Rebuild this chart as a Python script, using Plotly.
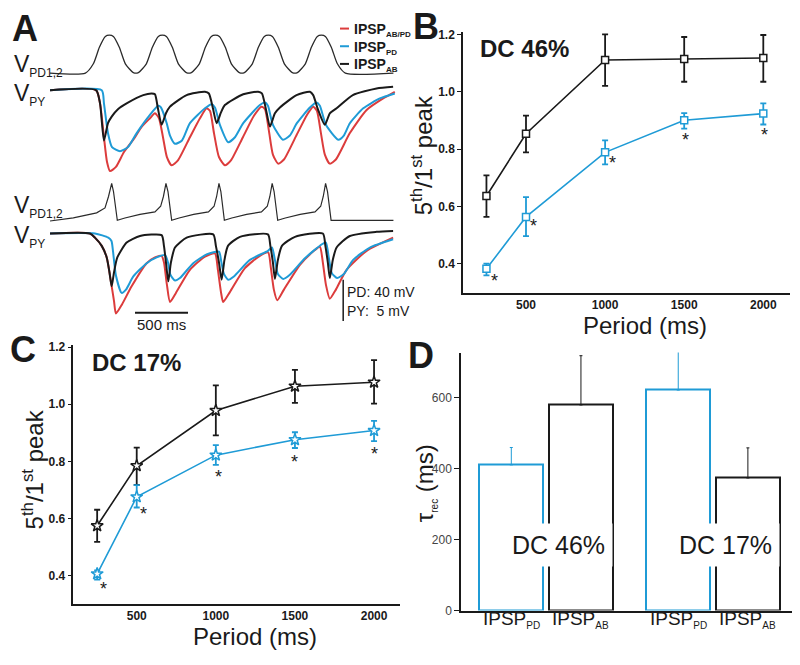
import plotly.graph_objects as go

# ---------------- DATA ----------------
# Panel A : time (ms) and membrane potential relative to rest (mV)
t_pd_top = [0, 334, 409, 466, 522, 560, 598, 654, 711, 786, 834, 909, 966, 1022, 1060, 1098, 1154, 1211, 1286,
            1334, 1409, 1466, 1522, 1560, 1598, 1654, 1711, 1786, 1834, 1909, 1966, 2022, 2060, 2098, 2154, 2211,
            2286, 2334, 2409, 2466, 2522, 2560, 2598, 2654, 2711, 2786, 3240]
v_pd_top = [0, 0, 9, 25, 35.5, 36.7, 35.5, 25, 9, 0.5, 0.5, 9, 25, 35.5, 36.7, 35.5, 25, 9, 0.5,
            0.5, 9, 25, 35.5, 36.7, 35.5, 25, 9, 0.5, 0.5, 9, 25, 35.5, 36.7, 35.5, 25, 9,
            0.5, 0.5, 9, 25, 35.5, 36.7, 35.5, 25, 9, 0, 0]

t_pd_bot = [0, 220, 440, 519, 552, 582, 599, 618, 635, 707, 849, 990, 1044, 1070, 1094, 1113, 1132, 1148,
            1218, 1355, 1495, 1548, 1572, 1594, 1612, 1630, 1645, 1715, 1855, 1995, 2050, 2074, 2096, 2114,
            2132, 2148, 2220, 2360, 2500, 2554, 2578, 2600, 2618, 2636, 2652, 3240]
v_pd_bot = [0, 3.1, 7.9, 12.7, 23.8, 36.5, 28.6, 14.3, 0.7, 2.9, 6.4, 8.9, 14.3, 23.8, 36.5, 28.6, 14.3, 0.7,
            2.9, 6.4, 8.9, 14.3, 23.8, 36.5, 28.6, 14.3, 0.7, 2.9, 6.4, 8.9, 14.3, 23.8, 36.5, 28.6,
            14.3, 0.7, 2.9, 6.4, 8.9, 14.3, 23.8, 36.5, 28.6, 14.3, 0.7, 0.7]

# PY, DC 46% (top)
t_ab_top = [0, 434, 472, 509, 547, 582, 641, 723, 880, 959, 990, 1018, 1053, 1094, 1132, 1289, 1462, 1499, 1537,
            1572, 1613, 1650, 1823, 1964, 1999, 2037, 2075, 2122, 2169, 2326, 2452, 2483, 2527, 2593, 2640, 2704,
            2857, 3081, 3237]
v_ab_top = [0, 0, -1.6, -6.1, -4.0, -3.2, -2.3, -1.6, -0.6, -0.4, -0.5, -2.2, -4.2, -2.8, -2.0, -0.6, -0.2, -0.4,
            -2.2, -4.0, -2.7, -1.8, -0.5, -0.2, -0.4, -2.3, -4.4, -2.8, -2.1, -0.6, -0.2, -0.6, -2.3, -4.2, -2.8,
            -2.2, -0.6, 0.2, 0.4]
t_pdsyn_top = [0, 488, 509, 547, 585, 660, 736, 818, 943, 1021, 1047, 1101, 1132, 1179, 1245, 1320, 1462, 1525,
               1556, 1603, 1681, 1745, 1823, 1980, 2028, 2056, 2103, 2197, 2263, 2329, 2452, 2515, 2546, 2603,
               2719, 2772, 2829, 2955, 3112, 3253]
v_pdsyn_top = [0, 0, -1.6, -5.2, -6.9, -7.4, -6.9, -5.2, -3.0, -1.9, -2.1, -4.0, -5.5, -6.5, -6.1, -4.0, -2.2,
               -1.7, -2.1, -4.2, -6.3, -5.7, -4.0, -1.8, -1.5, -1.9, -4.2, -6.0, -5.5, -4.0, -2.1, -1.5, -1.9,
               -4.2, -6.0, -5.5, -4.0, -2.2, -1.0, -0.4]
t_both_top = [0, 434, 472, 509, 538, 566, 622, 698, 786, 868, 943, 990, 1028, 1066, 1103, 1148, 1207, 1320, 1415,
              1478, 1509, 1547, 1594, 1650, 1707, 1820, 1924, 1996, 2028, 2065, 2103, 2153, 2207, 2320, 2424,
              2483, 2518, 2556, 2593, 2640, 2697, 2829, 2987, 3143, 3253]
v_both_top = [0, 0, -1.6, -5.7, -8.7, -9.8, -9.3, -7.5, -6.0, -4.4, -3.4, -2.8, -3.4, -5.7, -8.1, -9.1, -8.5,
              -5.7, -3.4, -2.2, -2.5, -5.2, -8.1, -9.1, -8.5, -5.7, -3.1, -2.0, -2.3, -4.9, -7.8, -8.9, -8.4,
              -5.6, -3.0, -2.0, -2.5, -5.2, -7.8, -8.9, -8.4, -5.2, -2.4, -1.0, -0.2]

# PY, DC 17% (bottom)
t_ab_bot = [0, 377, 424, 488, 535, 561, 582, 604, 635, 723, 849, 1053, 1075, 1094, 1116, 1141, 1179, 1289, 1540,
            1565, 1594, 1619, 1646, 1679, 1792, 2056, 2079, 2103, 2122, 2150, 2188, 2311, 2574, 2598, 2621, 2640,
            2668, 2704, 2829, 3081, 3237]
v_ab_bot = [0, 0, -0.5, -1.5, -2.9, -4.7, -6.4, -4.7, -2.9, -1.1, -0.3, -0.2, -1.5, -3.5, -5.8, -3.5, -1.7, -0.5,
            -0.1, -1.5, -3.5, -5.6, -3.2, -1.5, -0.4, -0.1, -1.5, -3.5, -5.5, -3.2, -1.5, -0.4, 0, -1.5, -3.5,
            -5.4, -3.2, -1.7, -0.3, 0.2, 0.3]
t_pdsyn_bot = [0, 424, 550, 580, 594, 622, 676, 717, 786, 912, 1006, 1085, 1113, 1136, 1179, 1226, 1351, 1483,
               1594, 1617, 1641, 1681, 1735, 1886, 2056, 2094, 2122, 2150, 2200, 2263, 2405, 2565, 2603, 2631,
               2659, 2709, 2772, 2860, 3018, 3237]
v_pdsyn_bot = [0, 0, -0.5, -0.9, -2.1, -5.1, -7.2, -6.8, -5.2, -3.6, -2.9, -2.6, -3.5, -5.0, -5.7, -5.4, -3.6,
               -2.5, -2.2, -3.5, -4.9, -5.6, -5.2, -3.2, -2.1, -1.7, -3.2, -4.9, -5.5, -5.0, -3.0, -1.3, -1.1,
               -3.0, -4.8, -5.4, -4.9, -3.2, -1.7, -0.7]
t_both_bot = [0, 377, 424, 488, 535, 582, 604, 622, 679, 770, 912, 990, 1053, 1075, 1103, 1132, 1188, 1320, 1462,
              1556, 1584, 1613, 1634, 1697, 1839, 1980, 2058, 2084, 2112, 2144, 2207, 2358, 2490, 2546, 2574,
              2603, 2640, 2697, 2798, 2987, 3237]
v_both_bot = [0, 0, -0.5, -1.5, -2.9, -6.4, -8.2, -9.7, -8.6, -6.4, -3.6, -2.9, -2.7, -3.5, -6.2, -8.3, -7.2,
              -4.4, -2.8, -2.4, -4.4, -7.1, -8.3, -7.1, -4.2, -2.7, -2.3, -4.2, -6.8, -8.1, -6.8, -3.8, -2.1,
              -1.6, -3.5, -6.2, -7.9, -6.8, -4.4, -2.1, -0.5]

# Panels B and C : 5th/1st peak ratio vs period
periods = [250, 500, 1000, 1500, 2000]
b_ab = [0.637, 0.854, 1.111, 1.114, 1.118]
b_ab_hi = [0.709, 0.917, 1.200, 1.191, 1.198]
b_ab_lo = [0.564, 0.789, 1.021, 1.035, 1.035]
b_pd = [0.383, 0.564, 0.789, 0.901, 0.924]
b_pd_hi = [0.401, 0.633, 0.831, 0.926, 0.960]
b_pd_lo = [0.360, 0.497, 0.747, 0.872, 0.886]

c_ab = [0.575, 0.785, 0.978, 1.063, 1.077]
c_ab_hi = [0.631, 0.848, 1.066, 1.120, 1.154]
c_ab_lo = [0.519, 0.718, 0.891, 1.005, 1.002]
c_pd = [0.407, 0.676, 0.822, 0.876, 0.908]
c_pd_hi = [0.419, 0.717, 0.857, 0.902, 0.942]
c_pd_lo = [0.387, 0.639, 0.788, 0.847, 0.871]

# Panel D : recovery time constant (ms)
d_groups = ["DC 46%", "DC 17%"]
d_pd = [411, 622]
d_pd_err = [49, 112]
d_ab = [580, 374]
d_ab_err = [139, 85]
d_ticklabels = ["IPSP<sub>PD</sub>", "IPSP<sub>AB</sub>"]

# ---------------- STYLE ----------------
BLUE = "#1f9bd6"
RED = "#dc3c3c"
BLACK = "#1a1a1a"
FONT = "Liberation Sans, Arial, sans-serif"
W, H = 800, 665


def px(xp):
    return xp / W


def py(yp):
    return 1 - yp / H


fig = go.Figure()

# Panel A traces
def trace_a(t, v, color, yaxis, width=2.0, shape="spline"):
    fig.add_trace(go.Scatter(x=t, y=v, mode="lines", xaxis="x", yaxis=yaxis,
                             line=dict(color=color, width=width, shape=shape, smoothing=0.6),
                             hoverinfo="skip", showlegend=False))

trace_a(t_pd_top, v_pd_top, "#2a2a2a", "y", width=1.3)
trace_a(t_both_top, v_both_top, RED, "y2")
trace_a(t_pdsyn_top, v_pdsyn_top, BLUE, "y2")
trace_a(t_ab_top, v_ab_top, BLACK, "y2")
trace_a(t_pd_bot, v_pd_bot, "#2a2a2a", "y3", width=1.2, shape="linear")
trace_a(t_both_bot, v_both_bot, RED, "y4")
trace_a(t_pdsyn_bot, v_pdsyn_bot, BLUE, "y4")
trace_a(t_ab_bot, v_ab_bot, BLACK, "y4")


def ratio_trace(y, hi, lo, color, symbol, xa, ya, size):
    fig.add_trace(go.Scatter(
        x=periods, y=y, mode="lines+markers", xaxis=xa, yaxis=ya,
        line=dict(color=color, width=1.6),
        marker=dict(symbol=symbol, size=size, color="white", line=dict(color=color, width=1.5)),
        error_y=dict(type="data", symmetric=False,
                     array=[h - m for h, m in zip(hi, y)],
                     arrayminus=[m - l for m, l in zip(y, lo)],
                     color=color, thickness=1.8, width=3),
        hoverinfo="skip", showlegend=False))

ratio_trace(b_ab, b_ab_hi, b_ab_lo, BLACK, "square", "x2", "y5", 7)
ratio_trace(b_pd, b_pd_hi, b_pd_lo, BLUE, "square", "x2", "y5", 7)
ratio_trace(c_ab, c_ab_hi, c_ab_lo, BLACK, "star", "x3", "y6", 9)
ratio_trace(c_pd, c_pd_hi, c_pd_lo, BLUE, "star", "x3", "y6", 9)

# Panel D bars
GROUP_GAP, BAR_STEP, BAR_W = 2.385, 0.995, 0.914
x_pd = [g * GROUP_GAP for g in range(len(d_groups))]
x_ab = [g * GROUP_GAP + BAR_STEP for g in range(len(d_groups))]
for xs, ys, es, col in [(x_pd, d_pd, d_pd_err, BLUE), (x_ab, d_ab, d_ab_err, BLACK)]:
    fig.add_trace(go.Bar(x=xs, y=ys, width=BAR_W, xaxis="x4", yaxis="y7",
                         marker=dict(color="white", line=dict(color=col, width=2)),
                         error_y=dict(type="data", symmetric=False, array=es, arrayminus=[0] * len(es),
                                      color=col, thickness=1, width=1.5),
                         hoverinfo="skip", showlegend=False))

hidden = dict(visible=False, showgrid=False, zeroline=False, fixedrange=True)
ratio_x = dict(showline=True, linecolor=BLACK, linewidth=1.5, ticks="", tickvals=[500, 1000, 1500, 2000],
               showgrid=False, zeroline=False,
               tickfont=dict(family=FONT, size=12, color=BLACK, weight="bold"))
ratio_y = dict(showline=True, linecolor=BLACK, linewidth=1.5, ticks="outside", ticklen=4, tickcolor=BLACK,
               tickvals=[0.4, 0.6, 0.8, 1.0, 1.2], tickformat=".1f", showgrid=False, zeroline=False,
               tickfont=dict(family=FONT, size=12, color=BLACK, weight="bold"))

fig.update_layout(
    width=W, height=H, margin=dict(l=0, r=0, t=0, b=0),
    paper_bgcolor="white", plot_bgcolor="white", showlegend=False,
    font=dict(family=FONT, color=BLACK),
    bargap=0,
    xaxis=dict(domain=[px(50), px(400)], range=[0, 3302], anchor="y4", **hidden),
    yaxis=dict(domain=[py(75), py(25)], range=[-5.4, 42.2], anchor="x", **hidden),
    yaxis2=dict(domain=[py(175), py(80)], range=[-10.5, 0.8], anchor="x", **hidden),
    yaxis3=dict(domain=[py(225), py(178)], range=[-4.76, 40.0], anchor="x", **hidden),
    yaxis4=dict(domain=[py(330), py(227)], range=[-11.58, 0.68], anchor="x", **hidden),
    xaxis2=dict(domain=[px(463), px(790)], range=[101.8, 2168.8], anchor="y5", **ratio_x),
    yaxis5=dict(domain=[py(293), py(28)], range=[0.2997, 1.2068], anchor="x2", **ratio_y),
    xaxis3=dict(domain=[px(73.3), px(400)], range=[99.2, 2164], anchor="y6", **ratio_x),
    yaxis6=dict(domain=[py(610), py(346.7)], range=[0.3016, 1.2055], anchor="x3", **ratio_y),
    xaxis4=dict(domain=[px(461), px(791.7)], range=[-0.7186, 4.006], anchor="y7", showline=True,
                linecolor=BLACK, linewidth=1.5, ticks="", showticklabels=False, showgrid=False, zeroline=False),
    yaxis7=dict(domain=[py(616.7), py(354)], range=[0, 727.7], anchor="x4", showline=True, linecolor=BLACK,
                linewidth=1.5, ticks="outside", ticklen=5, tickcolor=BLACK, tickvals=[0, 200, 400, 600],
                showgrid=False, zeroline=False, tickfont=dict(family=FONT, size=12, color="#444")),
)

ann = []


def text(x, y, s, size, bold=False, xanchor="center", yanchor="middle", angle=0, xref="paper", yref="paper",
         **kw):
    ann.append(dict(x=x, y=y, xref=xref, yref=yref, text=s, showarrow=False, xanchor=xanchor, yanchor=yanchor,
                    textangle=angle,
                    font=dict(family=FONT, size=size, color=BLACK, weight="bold" if bold else "normal"), **kw))

# panel letters
text(px(25), py(24), "A", 36, bold=True)
text(px(426), py(22), "B", 36, bold=True)
text(px(23), py(351), "C", 36, bold=True)
text(px(421), py(357), "D", 36, bold=True)

# Panel A labels
SUB = '<sub><span style="font-size:12px">{}</span></sub>'
text(px(12), py(62), "V" + SUB.format("PD1,2"), 23, xanchor="left")
text(px(12), py(91), "V" + SUB.format("PY"), 23, xanchor="left")
text(px(12), py(205), "V" + SUB.format("PD1,2"), 23, xanchor="left")
text(px(12), py(236), "V" + SUB.format("PY"), 23, xanchor="left")

# legend of panel A
LSUB = '<sub><span style="font-size:8px">{}</span></sub>'
shapes = []
for yy, col, lab in [(24, RED, "AB/PD"), (42, BLUE, "PD"), (60, BLACK, "AB")]:
    shapes.append(dict(type="line", xref="paper", yref="paper", x0=px(340), x1=px(349), y0=py(yy), y1=py(yy),
                       line=dict(color=col, width=2)))
    text(px(352), py(yy + 1.5), "IPSP" + LSUB.format(lab), 14, bold=True, xanchor="left")

# scale bars (drawn in data units of the bottom PY axis)
shapes.append(dict(type="line", xref="x", yref="y4", x0=802, x1=1302, y0=-9.6, y1=-9.6,
                   line=dict(color=BLACK, width=2)))
text(1052, -9.6, "500 ms", 15, xanchor="center", yanchor="top", xref="x", yref="y4", yshift=-1)
shapes.append(dict(type="line", xref="x", yref="y4", x0=2766, x1=2766, y0=-5.6, y1=-10.6,
                   line=dict(color=BLACK, width=1.5)))
text(2766, -7.1, "PD: 40 mV", 14, xanchor="left", xref="x", yref="y4", xshift=2)
text(2766, -9.4, "PY:  5 mV", 14, xanchor="left", xref="x", yref="y4", xshift=2)

# Panel B / C titles
text(px(524), py(44), "DC 46%", 24, bold=True)
text(px(136.5), py(364), "DC 17%", 24, bold=True)
ytitle = "5<sup>th</sup>/1<sup>st</sup> peak"
text(px(422), py(153), ytitle, 24, angle=-90)
text(px(33), py(473), ytitle, 24, angle=-90)
text(px(645), py(326), "Period (ms)", 24)
text(px(255), py(643), "Period (ms)", 24)

# significance asterisks near blue points
b_star_shift = [(8, 8), (7, 5), (7, 7), (1, 16), (1, 17)]
c_star_shift = [(6, 11), (7, 13), (3, 18), (0, 18), (0, 19)]
for xs, ys, shifts, xr, yr in [(periods, b_pd, b_star_shift, "x2", "y5"), (periods, c_pd, c_star_shift, "x3", "y6")]:
    for xv, yv, (dx, dy) in zip(xs, ys, shifts):
        text(xv, yv, "*", 18, xref=xr, yref=yr, xshift=dx, yshift=-(dy + 4))

# Panel D labels
text(px(425), py(487), "τ" + '<sub><span style="font-size:10px">rec</span></sub>' + " (ms)", 24, angle=-90)
for g, grp in enumerate(d_groups):
    for i, lab in enumerate(d_ticklabels):
        text(g * GROUP_GAP + i * BAR_STEP, py(612), lab.replace("<sub>", '<sub><span style="font-size:10px">')
             .replace("</sub>", "</span></sub>"), 19, xref="x4", yanchor="top")
    ann.append(dict(x=g * GROUP_GAP + BAR_STEP * 0.68, y=185, xref="x4", yref="y7", text=grp, showarrow=False,
                    font=dict(family=FONT, size=25, color=BLACK), bgcolor="white", borderpad=7))

fig.update_layout(annotations=ann, shapes=shapes)
fig.write_html("out.html", config={"displayModeBar": False},
               post_script="document.body.style.margin='0px';document.body.style.padding='0px';")
